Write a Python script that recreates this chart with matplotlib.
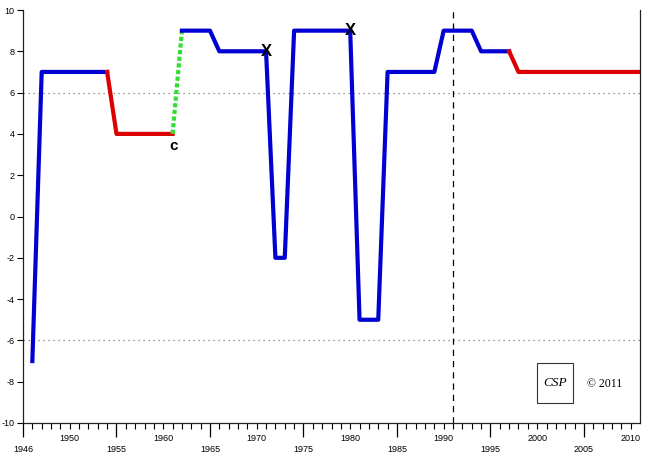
import matplotlib
matplotlib.use("Agg")
import numpy as np
from matplotlib import pyplot as plt
from matplotlib.patches import Rectangle
from matplotlib.ticker import FixedLocator, FuncFormatter

# --- data: annual scores ---
years_a = [1946, 1947, 1948, 1949, 1950, 1951, 1952, 1953, 1954]
score_a = [-7, 7, 7, 7, 7, 7, 7, 7, 7]

years_b = [1954, 1955, 1956, 1957, 1958, 1959, 1960, 1961]
score_b = [7, 4, 4, 4, 4, 4, 4, 4]

years_c = [1961, 1962]
score_c = [4, 9]

years_d = list(range(1962, 1998))
score_d = [9, 9, 9, 9, 8, 8, 8, 8, 8, 8,      # 1962-1971
           -2, -2, 9, 9, 9, 9, 9, 9, 9,        # 1972-1980
           -5, -5, -5, 7, 7, 7, 7, 7, 7,       # 1981-1989
           9, 9, 9, 9, 8, 8, 8, 8]             # 1990-1997

years_e = list(range(1997, 2012))
score_e = [8] + [7] * 14

coup_year, coup_score = 1961, 4
x_marks = [(1971, 8), (1980, 9)]
change_year = 1991

major_years = [1945, 1955, 1965, 1975, 1985, 1995, 2005]
upper_years = [1950, 1960, 1970, 1980, 1990, 2000, 2010]

blue = "#0000d2"
red = "#dc0000"
green = "#33dd33"

plt.rcParams["font.family"] = ["Liberation Sans", "DejaVu Sans"]
plt.rcParams["axes.unicode_minus"] = False

fig = plt.figure(figsize=(6.48, 4.62), dpi=100)
ax = fig.add_axes([23 / 648, 39 / 462, 617 / 648, 413 / 462])

ax.plot(years_a, score_a, color=blue, lw=3, zorder=3)
ax.plot(years_b, score_b, color=red, lw=3, zorder=3)
ax.plot(years_c, score_c, color=green, lw=3, linestyle=(0, (1, 0.6)), zorder=3)
ax.plot(years_d, score_d, color=blue, lw=3, zorder=3)
ax.plot(years_e, score_e, color=red, lw=3, zorder=3)

# coup and regime-change markers
ax.text(coup_year + 0.1, coup_score - 0.25, "c", fontsize=11, fontweight="bold",
        ha="center", va="top", zorder=4)
for yr, sc in x_marks:
    ax.text(yr, sc, "X", fontsize=12, fontweight="bold", ha="center", va="center", zorder=4)

# reference lines
for lvl in (6, -6):
    ax.axhline(lvl, color="#777777", lw=0.9, linestyle=(0, (1, 3)), zorder=1)
ax.axvline(change_year, color="black", lw=0.9, linestyle=(0, (5, 4)), zorder=1)

ax.set_xlim(1945, 2011)
ax.set_ylim(-10, 10)

ax.spines["top"].set_visible(False)
for s in ("left", "right", "bottom"):
    ax.spines[s].set_linewidth(0.9)
    ax.spines[s].set_color("#222222")

ax.set_yticks(np.arange(-10, 11, 2))
ax.tick_params(axis="y", direction="out", length=4, width=0.8, labelsize=6.5, pad=2)

ax.xaxis.set_major_locator(FixedLocator(major_years))
ax.xaxis.set_major_formatter(FuncFormatter(lambda v, p: "1946" if v == 1945 else f"{int(v)}"))
ax.xaxis.set_minor_locator(FixedLocator(list(range(1946, 2011))))
ax.xaxis.set_minor_formatter(FuncFormatter(lambda v, p: f"{int(v)}" if int(round(v)) in upper_years else ""))
ax.tick_params(axis="x", which="major", direction="out", length=10, width=0.9, labelsize=6.5, pad=6)
ax.tick_params(axis="x", which="minor", direction="out", length=4.5, width=0.8, labelsize=6.5, pad=3.5)

# logo box
ax.add_patch(Rectangle((0.833, 0.048), 0.058, 0.097, transform=ax.transAxes,
                       fill=False, edgecolor="#333333", lw=0.8, zorder=5))
ax.text(0.862, 0.097, "CSP", transform=ax.transAxes, ha="center", va="center",
        fontsize=9.5, fontstyle="italic", family=["Liberation Serif"], zorder=5)
ax.text(0.942, 0.094, "\u00a9 2011", transform=ax.transAxes, ha="center", va="center",
        fontsize=8.5, family=["Liberation Serif"], zorder=5)

fig.savefig("out.png", dpi=100)
